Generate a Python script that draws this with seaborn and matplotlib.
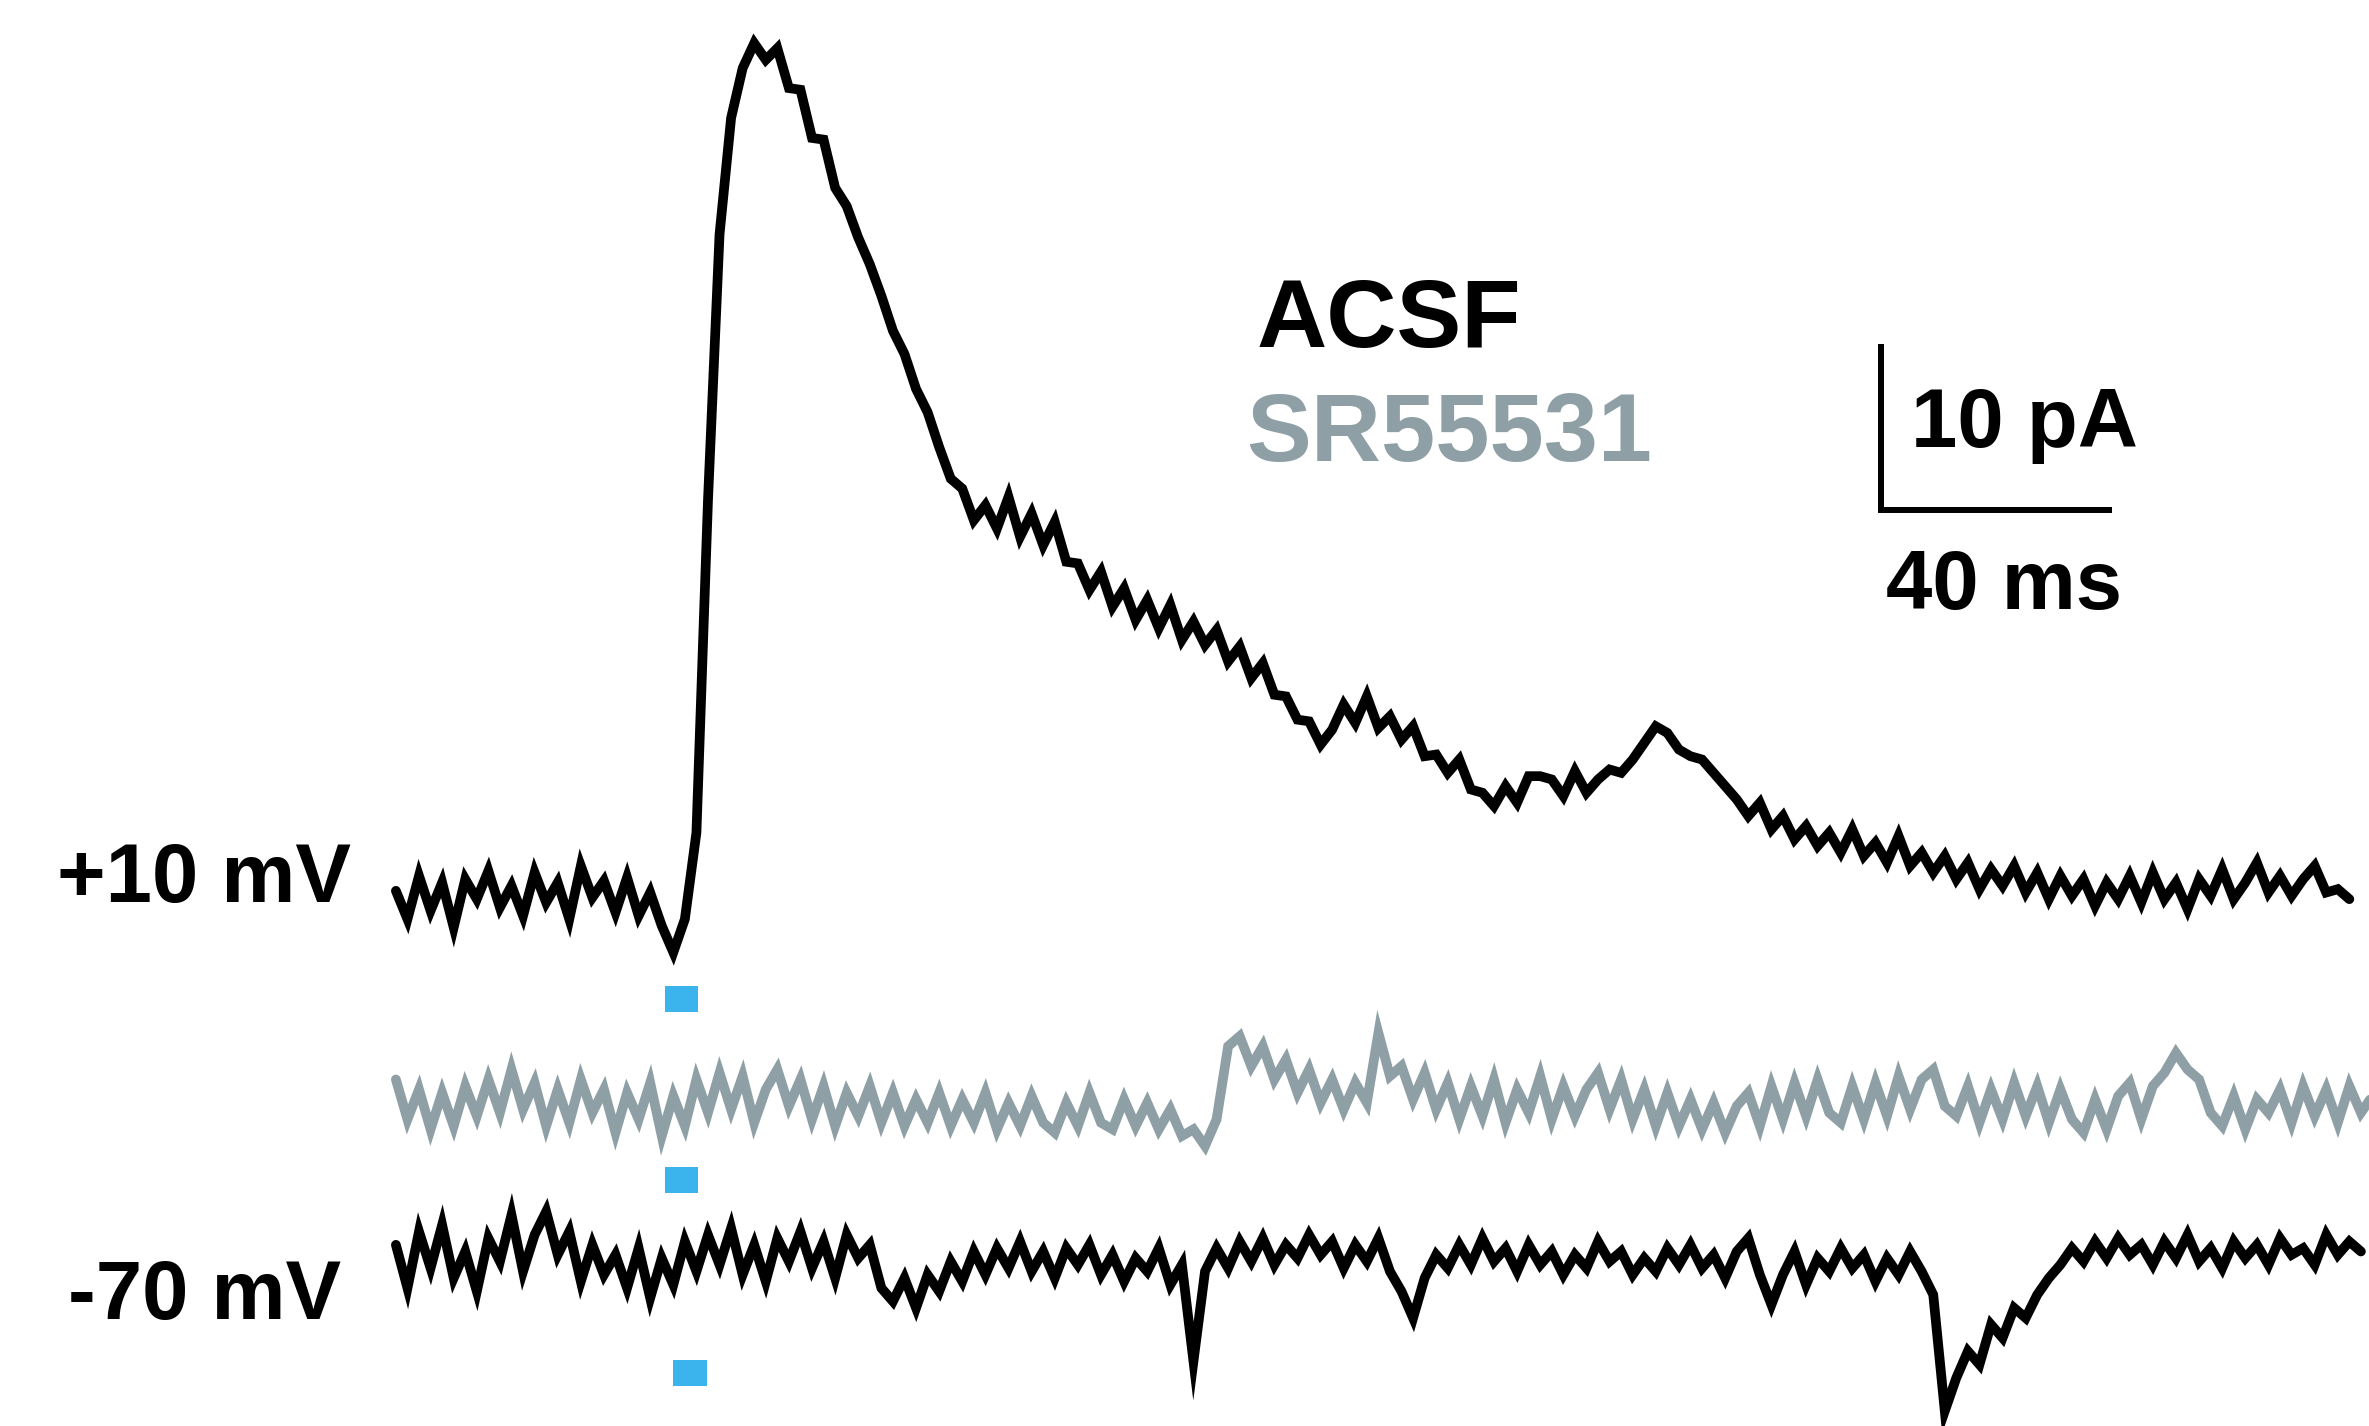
import numpy as np
import pandas as pd
import matplotlib
matplotlib.use("Agg")
import matplotlib.pyplot as plt
import seaborn as sns
from matplotlib.patches import Rectangle

sns.set_theme(style="white")
plt.rcParams['font.family'] = ['Liberation Sans', 'DejaVu Sans']

# ---------------- data (pA relative to baseline, sampled every 2 ms) -------------
DT = 2.0
acsf_p10 = [0.5, -1.2, 1.4, -0.7, 1.0, -1.7, 1.2, 0.0, 1.7, -0.5,
            0.8, -1.0, 1.6, -0.2, 1.0, -1.2, 2.0, 0.1, 1.1, -0.8,
            1.3, -1.0, 0.4, -1.6, -3.2, -1.2, 4.0, 24.0, 40.0, 47.0,
            50.0, 51.5, 50.5, 51.2, 48.8, 48.7, 45.8, 45.7, 42.8, 41.7,
            39.8, 38.2, 36.3, 34.2, 32.8, 30.7, 29.3, 27.2, 25.3, 24.7,
            22.8, 23.7, 22.3, 24.2, 21.8, 23.2, 21.3, 22.7, 20.3, 20.2,
            18.6, 19.7, 17.6, 18.7, 16.8, 18.0, 16.3, 17.7, 15.6, 16.7,
            15.3, 16.2, 14.3, 15.2, 13.3, 14.2, 12.3, 12.2, 10.8, 10.7,
            9.3, 10.2, 11.7, 10.6, 12.2, 10.3, 11.0, 9.6, 10.4, 8.6,
            8.7, 7.6, 8.4, 6.6, 6.4, 5.6, 6.8, 5.8, 7.4, 7.4,
            7.2, 6.2, 7.7, 6.4, 7.2, 7.8, 7.6, 8.4, 9.4, 10.4,
            10.0, 9.0, 8.6, 8.4, 7.6, 6.8, 6.0, 5.0, 5.8, 4.2,
            5.0, 3.6, 4.4, 3.2, 4.0, 2.8, 4.2, 2.6, 3.4, 2.2,
            3.8, 2.0, 2.8, 1.6, 2.6, 1.2, 2.2, 0.6, 1.8, 0.8,
            2.0, 0.4, 1.6, 0.0, 1.4, 0.2, 1.2, -0.4, 1.0, 0.0,
            1.4, -0.2, 1.6, 0.0, 1.0, -0.6, 1.2, 0.2, 1.8, 0.0,
            1.0, 2.2, 0.4, 1.4, 0.2, 1.2, 2.0, 0.4, 0.6, 0.0]

sr55531 = [1.4, -1.0, 0.8, -1.6, 0.6, -1.4, 1.0, -0.8, 1.4, -0.6,
           2.0, -0.4, 1.2, -1.4, 0.8, -1.2, 1.4, -0.6, 0.8, -1.8,
           0.6, -1.0, 1.2, -2.0, 0.4, -1.4, 1.4, -0.6, 1.8, -0.4,
           1.6, -1.2, 0.8, 2.0, -0.2, 1.4, -1.0, 1.0, -1.4, 0.6,
           -0.8, 1.0, -1.2, 0.6, -1.4, 0.2, -1.2, 0.6, -1.4, 0.2,
           -1.2, 0.6, -1.6, 0.0, -1.4, 0.4, -1.2, -1.8, 0.0, -1.4,
           0.6, -1.2, -1.6, 0.2, -1.4, 0.0, -1.6, -0.4, -2.0, -1.6,
           -2.6, -1.0, 3.4, 4.0, 2.2, 3.4, 1.4, 2.6, 0.6, 2.0,
           0.0, 1.4, -0.4, 1.2, 0.0, 4.2, 1.6, 2.2, 0.2, 1.8,
           -0.4, 1.2, -1.0, 1.0, -0.8, 1.4, -1.2, 0.8, -0.6, 1.6,
           -1.0, 1.0, -0.8, 0.8, 1.8, -0.4, 1.4, -1.0, 0.8, -1.4,
           0.6, -1.4, 0.2, -1.6, 0.0, -1.8, -0.2, 0.6, -1.4, 1.0,
           -1.0, 1.2, -0.8, 1.4, -0.6, -1.2, 1.0, -1.0, 1.2, -0.8,
           1.6, -0.4, 1.4, 2.0, -0.2, -0.8, 1.0, -1.2, 0.8, -1.0,
           1.2, -0.8, 1.0, -1.2, 0.8, -1.0, -1.8, 0.2, -1.6, 0.4,
           1.2, -1.0, 1.0, 1.8, 3.0, 2.0, 1.4, -0.6, -1.4, 0.4,
           -1.6, 0.2, -0.6, 0.8, -1.2, 1.0, -0.8, 0.8, -1.2, 1.0,
           -0.6, 0.4]

acsf_m70 = [1.0, -1.6, 1.8, -0.4, 2.2, -1.0, 0.6, -1.8, 1.4, 0.0,
            2.8, -0.6, 1.6, 3.0, 0.4, 1.8, -1.2, 1.0, -0.8, 0.4,
            -1.6, 0.8, -2.2, 0.2, -1.4, 1.2, -0.6, 1.6, -0.2, 2.0,
            -0.8, 1.0, -1.2, 1.4, 0.0, 1.8, -0.4, 1.2, -1.0, 1.6,
            0.2, 1.0, -1.6, -2.4, -1.0, -2.8, -0.8, -1.8, 0.0, -1.2,
            0.6, -0.8, 0.8, -0.4, 1.2, -0.6, 0.6, -1.0, 0.8, -0.2,
            1.0, -0.8, 0.4, -1.2, 0.2, -0.6, 0.8, -1.4, -0.2, -6.0,
            -0.6, 0.8, -0.4, 1.2, 0.0, 1.4, -0.2, 1.0, 0.2, 1.6,
            0.4, 1.2, -0.4, 1.0, 0.0, 1.4, -0.6, -1.8, -3.4, -1.0,
            0.4, -0.4, 1.0, -0.2, 1.4, 0.0, 0.8, -0.6, 1.0, -0.2,
            0.6, -0.8, 0.4, -0.4, 1.2, 0.0, 0.6, -0.8, 0.2, -0.6,
            0.8, -0.2, 1.0, -0.4, 0.4, -1.0, 0.6, 1.4, -0.8, -2.6,
            -0.8, 0.6, -1.4, 0.2, -0.6, 0.8, -0.4, 0.4, -1.2, 0.2,
            -0.8, 0.6, -0.6, -2.0, -9.0, -7.0, -5.4, -6.2, -3.8, -4.6,
            -2.8, -3.4, -2.0, -1.0, -0.2, 0.8, 0.0, 1.2, 0.2, 1.4,
            0.4, 1.0, -0.2, 1.2, 0.2, 1.6, 0.0, 0.8, -0.4, 1.2,
            0.2, 1.0, -0.2, 1.4, 0.4, 0.8, -0.2, 1.6, 0.4, 1.2,
            0.6]

trace_names = ["+10 mV ACSF", "+10 mV SR55531", "-70 mV ACSF"]
trace_values = [acsf_p10, sr55531, acsf_m70]
trace_colors = ["#000000", "#8e9fa5", "#000000"]
trace_offsets = [31.7, 19.45, 9.9]          # baseline position of each trace (pA)
stim_onsets = [46.5, 46.5, 48.0]            # light pulse onset (ms)
stim_width = 5.8                            # ms
stim_levels = [24.9, 14.0, 2.4]             # pA, bottom of each blue marker
stim_color = "#3bb4ee"

scale_x_ms = 40
scale_y_pA = 10

# ---------------- figure -------------
W, H, DPI = 2369, 1426, 100
fig = plt.figure(figsize=(W / DPI, H / DPI), dpi=DPI)
fig.patch.set_facecolor("white")
ax = fig.add_axes([0, 0, 1, 1])

frames = []
for name, vals, off in zip(trace_names, trace_values, trace_offsets):
    v = np.asarray(vals, dtype=float)
    frames.append(pd.DataFrame({"t": np.arange(len(v)) * DT,
                                "i": v + off, "trace": name}))
df = pd.concat(frames, ignore_index=True)

sns.lineplot(data=df, x="t", y="i", hue="trace", palette=dict(zip(trace_names, trace_colors)),
             hue_order=trace_names, linewidth=7.0, ax=ax, legend=False,
             estimator=None, sort=False)
for ln in ax.lines:
    ln.set_solid_joinstyle("miter")

for on, lvl in zip(stim_onsets, stim_levels):
    ax.add_patch(Rectangle((on, lvl), stim_width, 1.6, facecolor=stim_color,
                           edgecolor="none"))

# scale bar
sb_x, sb_y = 257.0, 55.1
ax.plot([sb_x, sb_x, sb_x + scale_x_ms], [sb_y + scale_y_pA, sb_y, sb_y],
        color="black", linewidth=4.3, solid_joinstyle="miter", solid_capstyle="butt")

ax.set_xlim(-68.5, 341.4)
ax.set_ylim(0, 85.8)
ax.axis("off")

def ftxt(x, y, s, size, color="black"):
    fig.text(x / 1568, 1 - y / 944, s, fontsize=size, fontweight="bold",
             color=color, ha="left", va="baseline")

ftxt(832, 230, "ACSF", 70)
ftxt(825, 305, "SR55531", 70, color="#8e9fa5")
ftxt(1265, 296, f"{scale_y_pA} pA", 60)
ftxt(1248, 403, f"{scale_x_ms} ms", 60)
ftxt(38, 597, "+10 mV", 60)
ftxt(45, 873, "-70 mV", 60)

fig.savefig("out.png", dpi=DPI, facecolor="white")
